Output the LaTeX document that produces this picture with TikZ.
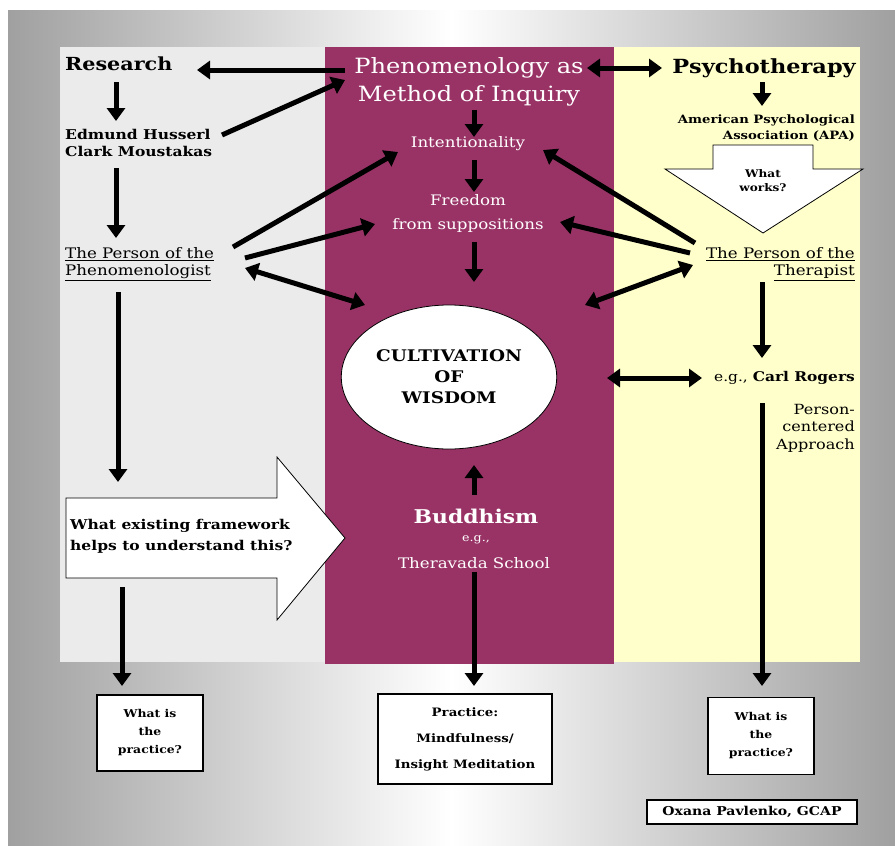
\documentclass[tikz,border=0pt]{standalone}
\usepackage{fontspec}
\setmainfont{DejaVu Serif}[FakeStretch=1.15]
\usetikzlibrary{arrows.meta,shapes.geometric}
\definecolor{plum}{RGB}{153,51,102}
\definecolor{lpanel}{RGB}{235,235,235}
\definecolor{ypanel}{RGB}{255,255,204}
\definecolor{frame}{RGB}{160,160,160}
\tikzset{
  arr/.style={line width=5pt,-{Triangle[length=13pt,width=18pt]}},
  darr/.style={line width=5pt,{Triangle[length=13pt,width=18pt]}-{Triangle[length=13pt,width=18pt]}},
  btxt/.style={font=\bfseries, text=black, inner sep=1pt},
  wtxt/.style={text=white, inner sep=1pt},
  pbox/.style={draw=black, line width=1.6pt, fill=white, align=center, font=\bfseries\fontsize{10.8}{18}\selectfont},
  blk/.style={draw=black, line width=0.8pt, fill=white}
}
\begin{document}
\begin{tikzpicture}[x=1pt,y=-1pt]
\useasboundingbox (0,0) rectangle (895,846);
\fill[white] (0,0) rectangle (895,846);
\shade[left color=frame, right color=frame, middle color=white] (8,10) rectangle (895,846);
% panels
\fill[lpanel] (60,47) rectangle (325,662);
\fill[plum] (325,47) rectangle (614,664);
\fill[ypanel] (614,47) rectangle (860,662);
% block arrows
\draw[blk] (66,498) -- (277,498) -- (277,457) -- (345,538) -- (277,620) -- (277,578) -- (66,578) -- cycle;
\draw[blk] (713,145) -- (813,145) -- (813,169) -- (863,169) -- (763,233) -- (665,169) -- (713,169) -- cycle;
% left column
\node[btxt, anchor=west, font=\bfseries\fontsize{18}{22}\selectfont] (res) at (64,64) {Research};
\node[btxt, anchor=west, align=left, font=\bfseries\fontsize{13.5}{17}\selectfont] (hus) at (64,143) {Edmund Husserl\\Clark Moustakas};
\node[anchor=west, align=left, inner sep=1pt, font=\fontsize{14.5}{17}\selectfont] (ppn) at (64,264) {\underline{The Person of the}\\\underline{Phenomenologist}};
\node[btxt, anchor=west, align=left, font=\bfseries\fontsize{13.5}{21}\selectfont] (q) at (69,536) {What existing framework\\helps to understand this?};
\node[pbox, minimum width=106pt, minimum height=76pt] (lp) at (150,733) {What is\\the\\practice?};
% middle column
\node[wtxt, align=center, font=\fontsize{21}{28}\selectfont] (phen) at (469,82) {Phenomenology as\\Method of Inquiry};
\node[wtxt, font=\fontsize{14.5}{14}\selectfont] (int) at (468,144) {Intentionality};
\node[wtxt, align=center, font=\fontsize{14.5}{24}\selectfont] (free) at (468,213) {Freedom\\from suppositions};
\node[ellipse, draw=black, line width=0.8pt, fill=white, minimum width=206pt, minimum height=144pt, align=center, font=\bfseries\fontsize{16}{21}\selectfont] (wis) at (449,377) {CULTIVATION\\OF\\WISDOM};
\node[wtxt, font=\bfseries\fontsize{19}{20}\selectfont] (bud) at (476,516) {Buddhism};
\node[wtxt, font=\fontsize{11}{12}\selectfont] (eg) at (476,540) {e.g.,};
\node[wtxt, font=\fontsize{14.5}{14}\selectfont] (thera) at (474,563) {Theravada School};
\node[pbox, minimum width=174pt, minimum height=90pt, font=\bfseries\fontsize{11.6}{26}\selectfont] (prac) at (465,739) {Practice:\\Mindfulness/\\Insight Meditation};
% right column
\node[btxt, font=\bfseries\fontsize{19.5}{22}\selectfont] (psy) at (764,68) {Psychotherapy};
\node[btxt, anchor=east, align=right, font=\bfseries\fontsize{11.5}{16}\selectfont] (apa) at (856,128) {American Psychological\\Association (APA)};
\node[btxt, align=center, font=\bfseries\fontsize{10.5}{14}\selectfont] (works) at (763,181) {What\\works?};
\node[anchor=east, align=right, inner sep=1pt, font=\fontsize{14.5}{17}\selectfont] (pth) at (856,264) {\underline{The Person of the}\\\underline{Therapist}};
\node[anchor=east, inner sep=1pt, font=\fontsize{13.4}{14}\selectfont] (rog) at (856,378) {e.g., \textbf{Carl Rogers}};
\node[anchor=east, align=right, inner sep=1pt, font=\fontsize{14}{17.5}\selectfont] (pca) at (856,428) {Person-\\centered\\Approach};
\node[pbox, minimum width=106pt, minimum height=77pt] (rp) at (761,736) {What is\\the\\practice?};
\node[pbox, minimum width=210pt, minimum height=24pt, font=\bfseries\fontsize{12.2}{12}\selectfont] (sig) at (752,812) {Oxana Pavlenko, GCAP};
% connector end points
\coordinate (c1) at (345,70);  \coordinate (c2) at (197,70);
\coordinate (c3) at (587,68);  \coordinate (c4) at (662,68);
\coordinate (c5) at (222,135); \coordinate (c6) at (345,80);
\coordinate (c7) at (233,247); \coordinate (c8) at (398,152);
\coordinate (c9) at (245,258); \coordinate (c10) at (375,224);
\coordinate (c11) at (245,268); \coordinate (c12) at (365,305);
\coordinate (c13) at (695,243); \coordinate (c14) at (543,150);
\coordinate (c15) at (690,253); \coordinate (c16) at (560,222);
\coordinate (c17) at (693,265); \coordinate (c18) at (585,305);
\coordinate (c19) at (607,378); \coordinate (c20) at (702,378);
% connectors
\draw[arr] (c1) -- (c2);
\draw[darr] (c3) -- (c4);
\draw[arr] (116,82) -- (116,121);
\draw[arr] (c5) -- (c6);
\draw[arr] (116,168) -- (116,238);
\draw[arr] (474,110) -- (474,137);
\draw[arr] (474,160) -- (474,192);
\draw[arr] (474,242) -- (474,282);
\draw[arr] (c7) -- (c8);
\draw[arr] (c9) -- (c10);
\draw[darr] (c11) -- (c12);
\draw[arr] (c13) -- (c14);
\draw[arr] (c15) -- (c16);
\draw[darr] (c17) -- (c18);
\draw[arr] (762,82) -- (762,106);
\draw[arr] (762,282) -- (762,358);
\draw[darr] (c19) -- (c20);
\draw[arr] (762,403) -- (762,686);
\draw[arr] (474,495) -- (474,465);
\draw[arr] (474,572) -- (474,686);
\draw[arr] (118,292) -- (118,482);
\draw[arr] (122,587) -- (122,686);
\end{tikzpicture}
\end{document}
